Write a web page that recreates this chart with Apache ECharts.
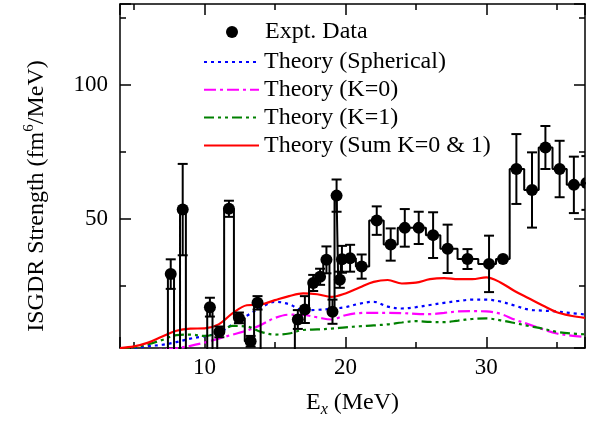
<!DOCTYPE html>
<html>
<head>
<meta charset="utf-8">
<script src="https://cdn.jsdelivr.net/npm/echarts@6/dist/echarts.min.js"></script>
<style>
  html, body { margin: 0; padding: 0; background: #fff; }
  #chart { width: 593px; height: 423px; }
</style>
</head>
<body>
<div id="chart"></div>
<script>
// Measured ISGDR strength: excitation energy (MeV), strength (fm^6/MeV), error
const exptEnergy = [7.2, 7.6, 8.07, 8.45, 8.9, 10.0, 10.38, 10.75, 11.05, 11.73, 12.44, 13.27, 13.76, 14.2,
  16.2, 16.62, 17.12, 17.71, 18.2, 18.65, 19.08, 19.37, 19.6, 19.75, 20.33, 21.15, 22.22, 23.21, 24.21,
  25.2, 26.22, 27.25, 28.66, 30.19, 31.18, 32.13, 33.24, 34.19, 35.2, 36.21, 37.1];
const exptStrength = [0, 29.5, 0, 53.5, 0, 0, 17.2, 0, 8, 53.8, 13.2, 4.5, 18.8, 0,
  0, 12.6, 16.3, 26.2, 28.5, 34.8, 15.5, 58.7, 27.4, 35.0, 35.4, 32.3, 49.4, 40.5, 46.7,
  46.7, 44.0, 38.9, 35.1, 33.3, 35.1, 68.6, 60.8, 76.6, 68.6, 62.7, 63.4];
const exptError = [0, 5.5, 0, 17, 0, 0, 3.5, 0, 2, 3, 2, 2, 2.5, 0,
  0, 3.5, 5, 3, 3, 5, 4.5, 6, 3, 5, 5, 4.5, 5.3, 6, 7,
  6, 8.5, 9, 3.7, 10.5, 0, 13, 14, 8, 10.5, 10.5, 10];

// Calculated strength functions on a 1 MeV grid
const theoryEnergy = [4, 5, 6, 7, 8, 9, 10, 11, 12, 13, 14, 15, 16, 17, 18, 19, 20,
  21, 22, 23, 24, 25, 26, 27, 28, 29, 30, 31, 32, 33, 34, 35, 36, 37];
const theorySpherical = [1.6, 2.0, 2.7, 3.2, 4.2, 5.5, 6.4, 7.6, 10.8, 14.0, 17.0, 19.2, 18.3, 16.0, 16.2, 16.6, 17.2,
  18.5, 19.2, 17.4, 16.7, 17.2, 18.0, 18.8, 19.5, 20.0, 20.0, 19.3, 17.8, 16.3, 15.9, 15.6, 15.0, 14.5];
const theoryK0 = [0.5, 0.7, 0.9, 1.4, 1.9, 2.8, 4.0, 5.5, 7.0, 8.5, 10.6, 13.2, 14.4, 14.3, 13.4, 12.6, 14.2,
  15.0, 15.1, 15.1, 15.0, 14.7, 14.6, 15.1, 15.6, 15.7, 15.6, 14.7, 12.6, 10.8, 9.0, 7.4, 6.6, 6.1];
const theoryK1 = [1.3, 2.2, 3.4, 5.0, 6.8, 7.0, 6.5, 7.6, 10.2, 10.0, 8.0, 7.0, 7.4, 8.7, 8.9, 9.2, 9.7,
  10.1, 10.4, 10.8, 11.5, 12.0, 11.7, 11.6, 12.2, 12.8, 13.0, 12.3, 11.3, 10.2, 9.2, 8.0, 7.4, 7.1];
const theorySum = [2.0, 2.6, 4.0, 6.3, 8.4, 9.2, 9.3, 10.8, 15.0, 17.9, 18.2, 19.8, 21.3, 22.3, 22.0, 21.0, 22.3,
  24.5, 26.6, 27.3, 26.0, 26.3, 27.6, 28.0, 27.6, 27.6, 28.3, 26.4, 23.2, 20.5, 17.8, 15.3, 14.0, 13.2];

const FONT = 'Liberation Serif';
const pairs = (xs, ys) => xs.map((x, i) => [x, ys[i]]);
const exptData = exptEnergy.map((x, i) => [x, exptStrength[i], exptError[i]]);

function axisBase(extra) {
  return Object.assign({
    type: 'value',
    splitLine: { show: false },
    axisLine: { show: true, lineStyle: { color: '#000', width: 1.5 } },
    axisTick: { show: true, inside: true, length: 11, lineStyle: { color: '#000', width: 1.5 } },
    minorTick: { show: true, splitNumber: 2, length: 6, lineStyle: { color: '#000', width: 1.5 } },
    minorSplitLine: { show: false }
  }, extra);
}

const xScale = { min: 4, max: 37, splitNumber: 3 };
const yScale = { min: 2, max: 130, splitNumber: 3 };

function theoryLine(name, ys, color, dash) {
  return {
    name: name,
    type: 'line',
    data: pairs(theoryEnergy, ys),
    smooth: 0.35,
    showSymbol: false,
    symbol: 'none',
    clip: true,
    lineStyle: { color: color, width: 2.2, type: dash },
    itemStyle: { color: color },
    z: 2
  };
}

const chart = echarts.init(document.getElementById('chart'));
chart.setOption({
  animation: false,
  backgroundColor: '#fff',
  grid: { left: 120, right: 8, top: 4, bottom: 72 },
  legend: [
    {
      data: [{ name: 'Expt. Data', icon: 'circle' }],
      left: 221, top: 15,
      itemWidth: 12, itemHeight: 12,
      textStyle: { fontFamily: FONT, fontSize: 24, color: '#000', lineHeight: 24, padding: [0, 0, 0, 22] },
      selectedMode: false
    },
    {
      data: ['Theory (Spherical)', 'Theory (K=0)', 'Theory (K=1)', 'Theory (Sum K=0 & 1)'],
      orient: 'vertical',
      left: 198, top: 45,
      itemWidth: 55, itemHeight: 14, itemGap: 3.8,
      itemStyle: { color: 'rgba(0,0,0,0)', borderWidth: 0, opacity: 0 },
      textStyle: { fontFamily: FONT, fontSize: 24, color: '#000', lineHeight: 24 },
      selectedMode: false
    }
  ],
  xAxis: [
    axisBase(Object.assign({
      position: 'bottom',
      name: 'E{sub|x} (MeV)',
      nameLocation: 'middle',
      nameGap: 40,
      nameTextStyle: {
        fontFamily: FONT, fontSize: 24, color: '#000', lineHeight: 30,
        rich: { sub: { fontFamily: FONT, fontSize: 16, fontStyle: 'italic', color: '#000', verticalAlign: 'bottom', lineHeight: 16 } }
      },
      axisLabel: {
        fontFamily: FONT, fontSize: 23, color: '#000', margin: 8,
        formatter: v => (Math.abs(v % 10) < 1e-9 ? String(v) : '')
      }
    }, xScale)),
    axisBase(Object.assign({
      position: 'top',
      axisLabel: { show: false }
    }, xScale))
  ],
  yAxis: [
    axisBase(Object.assign({
      position: 'left',
      name: 'ISGDR Strength (fm{sup|6}/MeV)',
      nameLocation: 'middle',
      nameGap: 68,
      nameRotate: 90,
      nameTextStyle: {
        fontFamily: FONT, fontSize: 24, color: '#000', lineHeight: 30, padding: [0, 40, 0, 0],
        rich: { sup: { fontFamily: FONT, fontSize: 15, color: '#000', verticalAlign: 'top', lineHeight: 16 } }
      },
      axisLabel: {
        fontFamily: FONT, fontSize: 23, color: '#000', margin: 12,
        formatter: v => (Math.abs(v % 50) < 1e-9 && v > 0 ? String(v) : '')
      }
    }, yScale)),
    axisBase(Object.assign({
      position: 'right',
      axisLabel: { show: false }
    }, yScale))
  ],
  series: [
    theoryLine('Theory (Spherical)', theorySpherical, '#0000ff', [3, 4]),
    theoryLine('Theory (K=0)', theoryK0, '#ff00ff', [12, 4, 3, 4]),
    theoryLine('Theory (K=1)', theoryK1, '#008000', [10, 4, 3, 4, 3, 4]),
    theoryLine('Theory (Sum K=0 & 1)', theorySum, '#ff0000', 'solid'),
    {
      name: 'Expt. steps',
      type: 'line',
      step: 'middle',
      data: pairs(exptEnergy, exptStrength),
      showSymbol: false,
      symbol: 'none',
      clip: true,
      lineStyle: { color: '#000', width: 2 },
      z: 3
    },
    {
      name: 'Expt. Data',
      type: 'custom',
      clip: true,
      itemStyle: { color: '#000' },
      data: exptData,
      encode: { x: 0, y: 1 },
      z: 4,
      renderItem: function (params, api) {
        const x = api.value(0), y = api.value(1), e = api.value(2);
        if (!(y > 0)) return null;
        const c = api.coord([x, y]);
        const children = [];
        if (e > 0) {
          const t = api.coord([x, y + e])[1];
          const b = api.coord([x, y - e])[1];
          const st = { stroke: '#000', lineWidth: 2 };
          children.push({ type: 'line', shape: { x1: c[0], y1: t, x2: c[0], y2: b }, style: st });
          children.push({ type: 'line', shape: { x1: c[0] - 5, y1: t, x2: c[0] + 5, y2: t }, style: st });
          children.push({ type: 'line', shape: { x1: c[0] - 5, y1: b, x2: c[0] + 5, y2: b }, style: st });
        }
        children.push({ type: 'circle', shape: { cx: c[0], cy: c[1], r: 6 }, style: { fill: '#000' } });
        return { type: 'group', children: children };
      }
    }
  ]
});
</script>
</body>
</html>
